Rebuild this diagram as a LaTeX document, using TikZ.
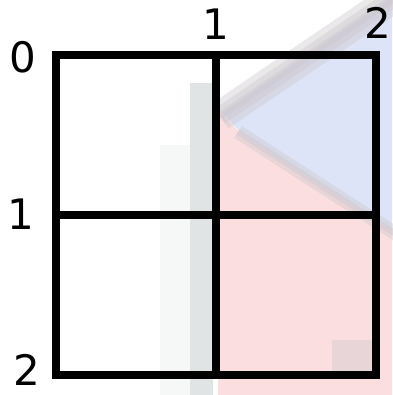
\documentclass[tikz,border=0pt]{standalone}
\usepackage{fontspec}
\setmainfont{DejaVu Sans}
\usepackage{tikz}
\usetikzlibrary{positioning,calc}
\definecolor{tintpink}{HTML}{FBDFE0}
\definecolor{tintblue}{HTML}{DEE4F8}
\definecolor{tintgray}{HTML}{D3D8D8}
\definecolor{tintmauve}{HTML}{CCC6CC}
\tikzset{
  gridline/.style={line width=8pt,line cap=rect},
  axislabel/.style={font=\fontsize{42}{42}\selectfont,inner sep=0pt},
  haze/.style={line cap=butt,opacity=0.4}
}

\begin{document}
\begin{tikzpicture}[x=1pt,y=1pt]
  \useasboundingbox (0,0) rectangle (392,395);

  % faint background picture behind the grid
  \fill[tintpink] (218,0) -- (392,0) -- (392,165) -- (245,258) -- (218,284) -- cycle;
  \fill[tintblue] (222,282) -- (392,398) -- (392,165) -- (245,258) -- cycle;
  \foreach \w in {8,18,30}
    \draw[tintmauve,haze,line width=\w pt] (420,415) -- (220,279);
  \foreach \w in {6,14}
    \draw[tintmauve,haze,line width=\w pt] (238,263) -- (410,152);
  \fill[tintgray,opacity=0.7] (190,0) rectangle (213,312);
  \fill[tintgray,opacity=0.2] (160,0) rectangle (190,250);
  \fill[tintmauve,opacity=0.4] (332,22) rectangle (372,55);

  % grid corners
  \coordinate (tl) at (56,340);
  \coordinate (br) at (376,20);
  \coordinate (mid) at (216,180);

  % cells
  \draw[gridline] (tl) rectangle (br);
  \draw[gridline] (mid |- tl) -- (mid |- br);
  \draw[gridline] (tl |- mid) -- (br |- mid);

  % row labels
  \node[axislabel] (row0) at (23,338) {0};
  \node[axislabel] (row1) at (21,181) {1};
  \node[axislabel] (row2) at (27,25) {2};

  % column labels
  \node[axislabel] (col1) at (216,371) {1};
  \node[axislabel] (col2) at (378,372) {2};
\end{tikzpicture}
\end{document}
